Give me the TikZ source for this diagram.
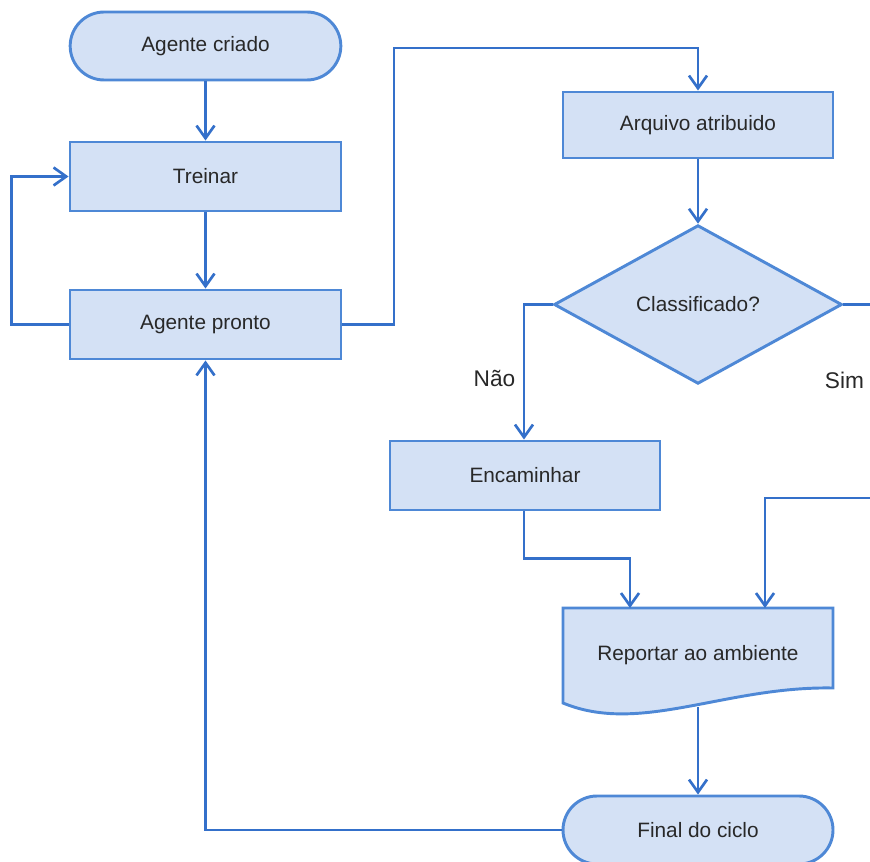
\documentclass[tikz,border=0pt]{standalone}
\usepackage{fontspec}
\setmainfont{Liberation Sans}
\usetikzlibrary{shapes.geometric,arrows.meta,calc}
\definecolor{boxfill}{RGB}{212,225,245}
\definecolor{boxline}{RGB}{78,136,214}
\definecolor{conline}{RGB}{52,112,202}
\definecolor{txt}{RGB}{40,40,40}
\tikzset{
  base/.style={fill=boxfill, draw=boxline, line width=2.2pt, text=txt, inner sep=0pt,
    font=\fontsize{15.6}{18}\selectfont},
  procbox/.style={base, rectangle, minimum width=202.5pt, minimum height=51pt},
  termbox/.style={base, rectangle, rounded corners=25.5pt, minimum width=203pt, minimum height=51pt},
  decbox/.style={base, diamond, minimum width=216pt, minimum height=119pt},
  conn/.style={draw=conline, line width=2.2pt, -{Straight Barb[length=9.5pt,width=13.5pt,line width=2pt]}},
  plain/.style={draw=conline, line width=2.2pt},
  lbl/.style={text=txt, font=\fontsize{17}{20}\selectfont, inner sep=0pt}
}
\begin{document}
\begin{tikzpicture}[x=0.75pt,y=-0.75pt]
\useasboundingbox (0,0) rectangle (870,862);
\clip (0,0) rectangle (870,862);
\fill[white] (0,0) rectangle (870,862);
% nodes
\node[termbox] (criado) at (205.5,46) {Agente criado};
\node[procbox, minimum width=203.25pt, minimum height=51.75pt] (treinar) at (205.5,176.5) {Treinar};
\node[procbox, minimum width=203.25pt, minimum height=51.75pt] (pronto) at (205.5,324.5) {Agente pronto};
\node[procbox, minimum height=49.5pt] (arquivo) at (698,125) {Arquivo atribuido};
\node[decbox] (dec) at (698,304.5) {Classificado?};
\node[procbox, minimum height=51.75pt] (enc) at (525,475.5) {Encaminhar};
% document shape
\node[base, draw=none, fill=none, rectangle, outer sep=0pt, minimum width=202.5pt, minimum height=72.75pt] (rep) at (698,656.5) {};
\fill[boxfill] (rep.north west) -- (rep.north east) -- (833,688)
  .. controls (725,686) and (640,735) .. (563,703) -- cycle;
\draw[boxline, line width=2.2pt, line join=miter] (rep.north west) -- (rep.north east) -- (833,688)
  .. controls (725,686) and (640,735) .. (563,703) -- cycle;
\node[text=txt, font=\fontsize{15.6}{18}\selectfont, inner sep=0pt] (reptext) at (698,655) {Reportar ao ambiente};
\node[termbox, minimum width=202.5pt] (final) at (698,830) {Final do ciclo};
% helper coordinates
\coordinate (c1) at (394,48);
\coordinate (simend) at (875,304.5);
\coordinate (simin) at (875,498);
\coordinate (repbot) at (698,707);
% connectors
\draw[conn] (criado) -- (treinar);
\draw[conn] (treinar) -- (pronto);
\draw[conn] (pronto.west) -- ++(-57,0) |- (treinar.west);
\draw[conn] (pronto.east) -| (c1) -| (arquivo.north);
\draw[conn] (arquivo) -- (dec);
\draw[conn] (dec.west) -| ($(enc.north)+(-1,0)$);
\draw[plain] (dec.east) -- (simend);
\draw[conn] (simin) -| ($(rep.north)+(67,0)$);
\draw[conn] ($(enc.south)+(-1,0)$) -- ++(0,47) -| ($(rep.north)+(-68,0)$);
\draw[conn] (repbot) -- (final.north);
\draw[conn] (final.west) -| (pronto.south);
% labels
\node[lbl] (nao) at (494.5,378) {Não};
\node[lbl] (sim) at (844.5,380) {Sim};
\end{tikzpicture}
\end{document}
